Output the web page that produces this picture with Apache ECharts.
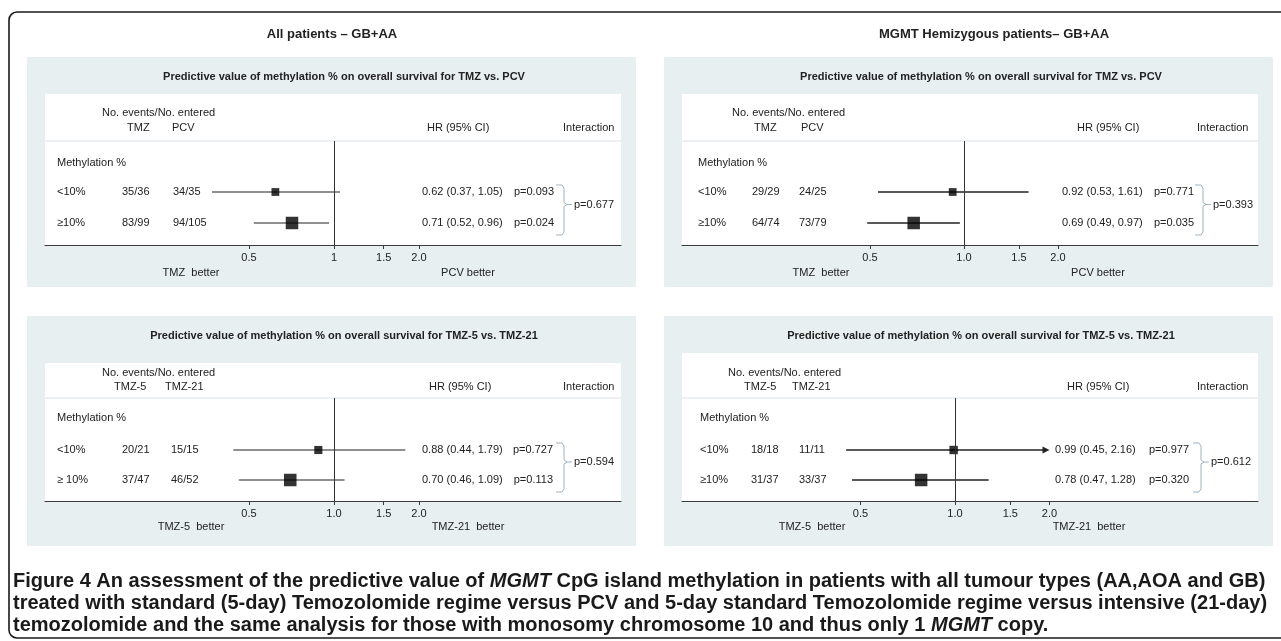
<!DOCTYPE html>
<html><head><meta charset="utf-8">
<script src="https://cdn.jsdelivr.net/npm/echarts@6/dist/echarts.min.js"></script>
<style>html,body{margin:0;padding:0;background:#fff}#c{width:1281px;height:641px}</style>
</head><body><div id="c"></div>
<script>
// ================= DATA =================
const sectionTitles = ['All patients – GB+AA', 'MGMT Hemizygous patients– GB+AA'];
const titleTMZvsPCV = 'Predictive value of methylation % on overall survival for TMZ vs. PCV';
const titleTMZ5vs21 = 'Predictive value of methylation % on overall survival for TMZ-5 vs. TMZ-21';
const countHeader = 'No. events/No. entered';
const subgroupHeader = 'Methylation %';
const armsTMZvsPCV = ['TMZ', 'PCV'];
const armsTMZ5vs21 = ['TMZ-5', 'TMZ-21'];
const betterTMZvsPCV = ['TMZ  better', 'PCV better'];
const betterTMZ5vs21 = ['TMZ-5  better', 'TMZ-21  better'];
const tickValues = [0.5, 1, 1.5, 2];
const tickLabelsTL = ['0.5', '1', '1.5', '2.0'];
const tickLabelsOther = ['0.5', '1.0', '1.5', '2.0'];

// Top-left: all patients, TMZ vs PCV
const tlGroups = ['<10%', '≥10%'];
const tlEvents1 = [35, 83], tlEntered1 = [36, 99];
const tlEvents2 = [34, 94], tlEntered2 = [35, 105];
const tlHR = [0.62, 0.71], tlLow = [0.37, 0.52], tlHigh = [1.05, 0.96];
const tlP = ['0.093', '0.024'], tlPInt = '0.677';

// Top-right: MGMT hemizygous, TMZ vs PCV
const trGroups = ['<10%', '≥10%'];
const trEvents1 = [29, 64], trEntered1 = [29, 74];
const trEvents2 = [24, 73], trEntered2 = [25, 79];
const trHR = [0.92, 0.69], trLow = [0.53, 0.49], trHigh = [1.61, 0.97];
const trP = ['0.771', '0.035'], trPInt = '0.393';

// Bottom-left: all patients, TMZ-5 vs TMZ-21
const blGroups = ['<10%', '≥ 10%'];
const blEvents1 = [20, 37], blEntered1 = [21, 47];
const blEvents2 = [15, 46], blEntered2 = [15, 52];
const blHR = [0.88, 0.70], blLow = [0.44, 0.46], blHigh = [1.79, 1.09];
const blP = ['0.727', '0.113'], blPInt = '0.594';

// Bottom-right: MGMT hemizygous, TMZ-5 vs TMZ-21
const brGroups = ['<10%', '≥10%'];
const brEvents1 = [18, 31], brEntered1 = [18, 37];
const brEvents2 = [11, 33], brEntered2 = [11, 37];
const brHR = [0.99, 0.78], brLow = [0.45, 0.47], brHigh = [2.16, 1.28];
const brP = ['0.977', '0.320'], brPInt = '0.612';

const captionLines = [
  '{b|Figure 4} An assessment of the predictive value of {i|MGMT} CpG island methylation in patients with all tumour types (AA,AOA and GB)',
  'treated with standard (5-day) Temozolomide regime versus PCV and 5-day standard Temozolomide regime versus intensive (21-day)',
  'temozolomide and the same analysis for those with monosomy chromosome 10 and thus only 1 {i|MGMT} copy.'
];

// ================= LAYOUT (positions / styles) =================
const FONT = '"Liberation Sans Narrow","Arial Narrow","Liberation Sans",Arial,sans-serif';
const CAP_FONT = '"Liberation Sans",Arial,sans-serif';
const CAP_SIZE = 20;
const TXT = '#222';
const PANEL_W = 609, PANEL_H = 230, BOX_MAX = 12.5;
const topRows = {sep: 84, meth: 106, r1: 135, r2: 166, axis: 188, hdr1: 56, hdr2: 71, better: 216};
const botRows = {sep: 82, meth: 102, r1: 134, r2: 164, axis: 185, hdr1: 57, hdr2: 71, better: 211};
const layouts = [
  Object.assign({x0: 27, y0: 57, whiteTop: 37, c: 307, k: 85, lab: 30, c1: 95, c2: 146, hdr: 75, a1: 100, a2: 145, hrHdr: 400, hrX: 395, pR: 527, intX: 536, bx: 537, ciW: 1.2}, topRows),
  Object.assign({x0: 664, y0: 57, whiteTop: 37, c: 300, k: 94, lab: 34, c1: 88, c2: 135, hdr: 68, a1: 90, a2: 137, hrHdr: 413, hrX: 398, pR: 530, intX: 533, bx: 539, ciW: 1.6}, topRows),
  Object.assign({x0: 27, y0: 316, whiteTop: 47, c: 307, k: 85, lab: 30, c1: 95, c2: 144, hdr: 75, a1: 87, a2: 138, hrHdr: 402, hrX: 395, pR: 526, intX: 536, bx: 537, ciW: 1.2}, botRows),
  Object.assign({x0: 664, y0: 316, whiteTop: 37, c: 291, k: 94.5, lab: 36, c1: 87, c2: 135, hdr: 64, a1: 80, a2: 128, hrHdr: 403, hrX: 391, pR: 525, intX: 533, bx: 537, ciW: 1.4}, botRows)
];

const panels = [
  {groups: tlGroups, ev1: tlEvents1, n1: tlEntered1, ev2: tlEvents2, n2: tlEntered2, hr: tlHR, lo: tlLow, hi: tlHigh, p: tlP, pint: tlPInt, title: titleTMZvsPCV, arms: armsTMZvsPCV, better: betterTMZvsPCV, ticks: tickLabelsTL},
  {groups: trGroups, ev1: trEvents1, n1: trEntered1, ev2: trEvents2, n2: trEntered2, hr: trHR, lo: trLow, hi: trHigh, p: trP, pint: trPInt, title: titleTMZvsPCV, arms: armsTMZvsPCV, better: betterTMZvsPCV, ticks: tickLabelsOther},
  {groups: blGroups, ev1: blEvents1, n1: blEntered1, ev2: blEvents2, n2: blEntered2, hr: blHR, lo: blLow, hi: blHigh, p: blP, pint: blPInt, title: titleTMZ5vs21, arms: armsTMZ5vs21, better: betterTMZ5vs21, ticks: tickLabelsOther},
  {groups: brGroups, ev1: brEvents1, n1: brEntered1, ev2: brEvents2, n2: brEntered2, hr: brHR, lo: brLow, hi: brHigh, p: brP, pint: brPInt, title: titleTMZ5vs21, arms: armsTMZ5vs21, better: betterTMZ5vs21, ticks: tickLabelsOther}
];

function txt(x, y, text, o) {
  o = o || {};
  const align = o.align || 'left';
  return {type: 'text', x: x, y: y, z: 10, silent: true, style: {
    text: text, fill: o.fill || TXT, fontSize: o.size || 11, fontFamily: o.family || FONT,
    fontWeight: o.weight || 'normal', align: align, textAlign: align,
    verticalAlign: 'middle', textVerticalAlign: 'middle'
  }};
}

const graphics = [];
// outer frame
graphics.push({type: 'rect', z: -20, silent: true, shape: {x: 9, y: 12, width: 1300, height: 626, r: 8}, style: {fill: 'none', stroke: '#1a1a1a', lineWidth: 1.6}});
graphics.push(txt(332, 34, sectionTitles[0], {weight: 'bold', size: 13, align: 'center'}));
graphics.push(txt(994, 34, sectionTitles[1], {weight: 'bold', size: 13, align: 'center'}));

const grids = [], xAxes = [], yAxes = [], series = [];
const clipMax = Math.max.apply(null, tickValues);

panels.forEach((P, i) => {
  const L = layouts[i];
  const X = L.x0, Y = L.y0;
  graphics.push({type: 'rect', z: -10, silent: true, shape: {x: X, y: Y, width: PANEL_W, height: PANEL_H}, style: {fill: '#e8eff1'}});
  graphics.push({type: 'rect', z: -9, silent: true, shape: {x: X + 18, y: Y + L.whiteTop, width: 576, height: L.axis - L.whiteTop}, style: {fill: '#ffffff'}});
  graphics.push({type: 'line', z: -8, silent: true, shape: {x1: X + 18, y1: Y + L.sep, x2: X + 594, y2: Y + L.sep}, style: {stroke: '#dbe2e6', lineWidth: 1}});
  graphics.push(txt(X + 317, Y + 20, P.title, {weight: 'bold', align: 'center'}));
  graphics.push(txt(X + L.hdr, Y + L.hdr1, countHeader));
  graphics.push(txt(X + L.a1, Y + L.hdr2, P.arms[0]));
  graphics.push(txt(X + L.a2, Y + L.hdr2, P.arms[1]));
  graphics.push(txt(X + L.hrHdr, Y + L.hdr2, 'HR (95% CI)'));
  graphics.push(txt(X + L.intX, Y + L.hdr2, 'Interaction'));
  graphics.push(txt(X + L.lab, Y + L.meth, subgroupHeader));
  const rowsY = [L.r1, L.r2];
  P.groups.forEach((g, j) => {
    const ry = Y + rowsY[j];
    graphics.push(txt(X + L.lab, ry, g));
    graphics.push(txt(X + L.c1, ry, P.ev1[j] + '/' + P.n1[j]));
    graphics.push(txt(X + L.c2, ry, P.ev2[j] + '/' + P.n2[j]));
    graphics.push(txt(X + L.hrX, ry, P.hr[j].toFixed(2) + ' (' + P.lo[j].toFixed(2) + ', ' + P.hi[j].toFixed(2) + ')'));
    graphics.push(txt(X + L.pR, ry, 'p=' + P.p[j], {align: 'right'}));
  });
  // interaction bracket
  const bx = X + L.bx, top = Y + L.r1 - 7, bot = Y + L.r2 + 12, mid = Y + (L.r1 + L.r2) / 2 - 3;
  graphics.push({type: 'polyline', z: 5, silent: true, shape: {points: [[bx - 8, top], [bx - 2, top], [bx, top + 3], [bx, mid - 2], [bx + 3, mid], [bx, mid + 2], [bx, bot - 3], [bx - 2, bot], [bx - 8, bot]]}, style: {stroke: '#9fb3bf', lineWidth: 1, fill: 'none'}});
  graphics.push({type: 'line', z: 5, silent: true, shape: {x1: bx + 3, y1: mid, x2: bx + 8, y2: mid}, style: {stroke: '#9fb3bf', lineWidth: 1}});
  graphics.push(txt(bx + 10, mid, 'p=' + P.pint));
  // better labels
  graphics.push(txt(X + L.c - 143, Y + L.better, P.better[0], {align: 'center'}));
  graphics.push(txt(X + L.c + 134, Y + L.better, P.better[1], {align: 'center'}));

  // chart
  grids.push({left: X + 18, top: Y + L.sep, width: 576, height: L.axis - L.sep, outerBoundsMode: 'none', containLabel: false});
  const labels = P.ticks;
  xAxes.push({
    type: 'log', logBase: 2, gridIndex: i, position: 'bottom',
    min: Math.pow(2, (18 - L.c) / L.k), max: Math.pow(2, (594 - L.c) / L.k),
    axisLine: {show: true, onZero: false, lineStyle: {color: '#3a3a3a', width: 1}},
    axisTick: {show: true, customValues: tickValues, length: 4, lineStyle: {color: '#3a3a3a', width: 1}},
    axisLabel: {customValues: tickValues, margin: 7, color: TXT, fontSize: 11, fontFamily: FONT,
      formatter: v => { const idx = tickValues.findIndex(t => Math.abs(t - v) < 1e-6); return idx >= 0 ? labels[idx] : ''; }},
    splitLine: {show: false}, minorTick: {show: false}
  });
  const unit = L.r2 - L.r1;
  yAxes.push({type: 'value', gridIndex: i, inverse: true, show: false,
    axisLine: {onZero: false},
    min: 1 - (L.r1 - L.sep) / unit, max: 2 + (L.axis - L.r2) / unit, splitLine: {show: false}});

  const ciW = L.ciW;
  series.push({
    type: 'custom', xAxisIndex: i, yAxisIndex: i, z: 3, silent: true,
    dimensions: ['lo', 'hi', 'row'], encode: {x: [0, 1], y: 2},
    data: P.hr.map((h, j) => [P.lo[j], P.hi[j], j + 1]),
    renderItem: (params, api) => {
      const lo = api.value(0), hi = api.value(1), row = api.value(2);
      const clipped = hi > clipMax;
      const a = api.coord([lo, row]), b = api.coord([Math.min(hi, clipMax), row]);
      const children = [{type: 'line', shape: {x1: a[0], y1: a[1], x2: clipped ? b[0] - 5 : b[0], y2: b[1]}, style: {stroke: '#222', lineWidth: ciW}}];
      if (clipped) children.push({type: 'polygon', shape: {points: [[b[0], b[1]], [b[0] - 7, b[1] - 3.5], [b[0] - 7, b[1] + 3.5]]}, style: {fill: '#222'}});
      return {type: 'group', children: children};
    }
  });
  const weights = P.ev1.map((e, j) => e + P.ev2[j]);
  const maxW = Math.max.apply(null, weights);
  series.push({
    type: 'scatter', xAxisIndex: i, yAxisIndex: i, z: 4, silent: true,
    symbol: 'rect', symbolSize: v => BOX_MAX * Math.sqrt(v[2] / maxW),
    itemStyle: {color: '#000'},
    data: P.hr.map((h, j) => [h, j + 1, weights[j]]),
    markLine: {silent: true, symbol: ['none', 'none'], label: {show: false}, animation: false,
      lineStyle: {color: '#333', width: 1, type: 'solid'}, emphasis: {disabled: true}, data: [{xAxis: 1}]}
  });
});

// caption
const capFont = 'bold ' + CAP_SIZE + 'px ' + CAP_FONT;
const capFontI = 'italic bold ' + CAP_SIZE + 'px ' + CAP_FONT;
captionLines.forEach((line, j) => {
  graphics.push({type: 'text', x: 13, y: 581 + 22 * j, z: 10, silent: true, style: {
    text: line, fill: '#1a1a1a', font: capFont,
    fontSize: CAP_SIZE, fontWeight: 'bold', fontFamily: CAP_FONT,
    align: 'left', textAlign: 'left', verticalAlign: 'middle', textVerticalAlign: 'middle',
    rich: {
      b: {font: capFont, fontSize: CAP_SIZE, fontWeight: 'bold', fontFamily: CAP_FONT, fill: '#1a1a1a'},
      i: {font: capFontI, fontSize: CAP_SIZE, fontWeight: 'bold', fontStyle: 'italic', fontFamily: CAP_FONT, fill: '#1a1a1a'}
    }
  }});
});

const chart = echarts.init(document.getElementById('c'), null, {renderer: 'canvas'});
chart.setOption({
  animation: false,
  backgroundColor: '#ffffff',
  grid: grids, xAxis: xAxes, yAxis: yAxes, series: series,
  graphic: {elements: graphics}
});
</script></body></html>
